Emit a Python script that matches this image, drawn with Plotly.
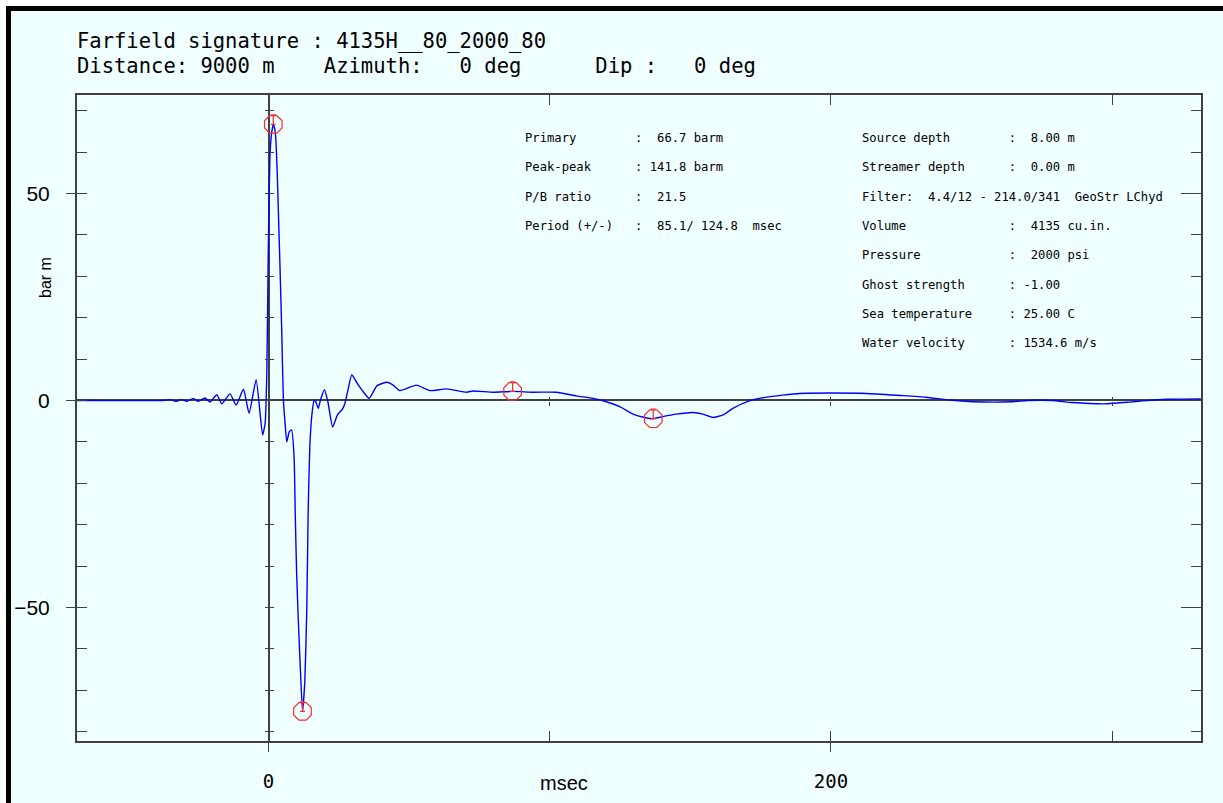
import plotly.graph_objects as go

# ---------------- data ----------------
t_ms = [-68.0, -37.5, -35.0, -33.0, -31.0, -29.0, -26.7, -25.0, -22.6, -20.8,
        -18.4, -16.6, -13.7, -11.5, -8.9, -6.9, -4.4, -2.1, -1.2, -0.6,
        -0.1, 0.5, 1.1, 1.7, 2.3, 2.7, 3.1, 3.5, 4.1, 4.7,
        5.3, 5.9, 6.5, 7.4, 8.2, 9.1, 9.5, 10.0, 10.6, 11.4,
        12.1, 12.9, 13.6, 14.1, 14.7, 15.5, 16.2, 16.8, 17.7, 18.5,
        19.9, 21.2, 22.8, 24.5, 26.3, 27.2, 28.4, 29.6, 31.5, 33.7,
        35.8, 38.6, 42.2, 44.3, 46.7, 52.6, 57.4, 63.3, 70.4, 72.8,
        79.9, 86.8, 94.1, 102.4, 109.5, 115.4, 120.1, 124.9, 129.6, 133.7,
        136.8, 140.2, 145.0, 150.9, 154.5, 158.0, 161.6, 165.1, 171.0, 177.0,
        182.9, 188.8, 200.0, 212.5, 224.9, 233.8, 242.1, 250.4, 264.6, 270.0,
        278.8, 285.9, 298.3, 306.0, 310.8, 319.6, 331.5]
amp_barm = [0.0, 0.0, 0.2, -0.2, 0.2, -0.2, 0.5, -0.2, 0.6, -0.4,
            1.4, -0.8, 1.6, -1.1, 2.7, -3.1, 5.0, -8.3, -5.5, 6.6,
            35.0, 58.9, 64.6, 66.7, 65.3, 62.0, 55.0, 46.0, 32.0, 17.0,
            0.0, -5.5, -10.0, -7.5, -7.1, -13.6, -27.0, -41.7, -53.0, -66.0,
            -75.1, -68.0, -51.0, -27.0, -11.0, -3.0, 0.0, -0.3, -1.9, 0.2,
            2.6, -0.6, -6.4, -3.5, -2.1, -0.6, 3.0, 6.2, 4.2, 2.1,
            0.5, 3.6, 4.4, 3.7, 2.4, 3.7, 2.4, 2.8, 2.0, 2.3,
            2.0, 2.2, 2.0, 2.0, 1.1, 0.5, -0.3, -1.5, -3.3, -4.1,
            -4.4, -3.9, -3.3, -2.9, -3.3, -4.1, -3.5, -1.9, -0.1, 0.8,
            1.3, 1.7, 1.8, 1.7, 1.2, 0.8, 0.1, -0.3, -0.3, 0.0,
            0.0, -0.5, -0.8, -0.4, -0.1, 0.3, 0.4]

# picked extrema: primary peak, primary trough, bubble peak, bubble trough
pick_t = [1.7, 12.1, 86.8, 136.8]
pick_v = [66.7, -75.1, 2.2, -4.4]

x_ticks = [0, 100, 200, 300]
x_labels = [0, 200]
y_labels = [-50, 0, 50]

title_line1 = "Farfield signature : 4135H__80_2000_80"
title_line2 = "Distance: 9000 m    Azimuth:   0 deg      Dip :   0 deg"

left_names = ["Primary", "Peak-peak", "P/B ratio", "Period (+/-)"]
left_values = [":  66.7 barm", ": 141.8 barm", ":  21.5", ":  85.1/ 124.8  msec"]
right_names = ["Source depth", "Streamer depth", "Filter:", "Volume", "Pressure",
               "Ghost strength", "Sea temperature", "Water velocity"]
right_values = [":  8.00 m", ":  0.00 m", "  4.4/12 - 214.0/341  GeoStr LChyd",
                ":  4135 cu.in.", ":  2000 psi", ": -1.00", ": 25.00 C", ": 1534.6 m/s"]

# ---------------- layout geometry ----------------
W, H = 1223, 803
PL, PR, PT, PB = 77, 1201, 95, 741
BG = "#f0ffff"
AX = "#404040"
RED = "#ff2a2a"
XR = [-68.09, 331.56]
YR = [-82.25, 73.79]
MARK_SIZE = 19


def fx(px):
    return (px - PL) / (PR - PL)


def fy(py):
    return (PB - py) / (PB - PT)


def nb(s):
    return s.replace(" ", "\u00a0")


# marker radius expressed in y data units (for the small "T" inside each circle)
px_per_unit = (PB - PT) / (YR[1] - YR[0])
r_units = (MARK_SIZE / 2) / px_per_unit

fig = go.Figure()
fig.add_trace(go.Scatter(x=t_ms, y=amp_barm, mode="lines",
                         line=dict(color="#0000ff", width=1.4, shape="spline", smoothing=0.5),
                         hoverinfo="skip", showlegend=False))
fig.add_trace(go.Scatter(x=pick_t, y=pick_v, mode="markers",
                         marker=dict(symbol="octagon-open", size=MARK_SIZE, color=RED,
                                     line=dict(width=1.2, color=RED)),
                         error_y=dict(type="data", symmetric=False,
                                      array=[r_units] * len(pick_t),
                                      arrayminus=[0] * len(pick_t),
                                      color=RED, thickness=1.2, width=2.5),
                         hoverinfo="skip", showlegend=False))
# empty traces so that the helper axes are drawn
for xa, ya in [("x2", "y"), ("x3", "y"), ("x4", "y"), ("x", "y2"), ("x", "y3"),
               ("x", "y4"), ("x", "y5")]:
    fig.add_trace(go.Scatter(x=[None], y=[None], xaxis=xa, yaxis=ya,
                             mode="lines", showlegend=False, hoverinfo="skip"))

plain = dict(showgrid=False, zeroline=False, showline=False, automargin=False)
zero_y_pos = fy(400.5)
zero_x_pos = fx(268.5)

fig.update_layout(
    width=W, height=H, autosize=False,
    margin=dict(l=PL, r=W - PR, t=PT, b=H - PB, pad=0, autoexpand=False),
    paper_bgcolor=BG, plot_bgcolor=BG,
    showlegend=False,
    xaxis=dict(range=XR, showgrid=False, zeroline=True, zerolinecolor=AX, zerolinewidth=1.5,
               showline=True, linecolor=AX, linewidth=1.6, mirror="ticks", automargin=False,
               ticks="inside", tickvals=x_ticks, ticklen=10, tickwidth=1.2, tickcolor=AX,
               showticklabels=False),
    xaxis2=dict(range=XR, overlaying="x", anchor="y", side="bottom", **plain,
                ticks="outside", tickvals=x_labels, ticklen=10, tickwidth=1.2, tickcolor=AX,
                tickfont=dict(family="DejaVu Sans Mono", size=19, color="black"),
                ticklabelstandoff=13),
    xaxis3=dict(range=XR, overlaying="x", anchor="free", position=zero_y_pos, side="bottom",
                **plain, ticks="outside", tickvals=x_ticks[1:], ticklen=4, tickwidth=1.2,
                tickcolor=AX, showticklabels=False),
    xaxis4=dict(range=XR, overlaying="x", anchor="free", position=zero_y_pos, side="bottom",
                **plain, ticks="inside", tickvals=x_ticks[1:], ticklen=4, tickwidth=1.2,
                tickcolor=AX, showticklabels=False),
    yaxis=dict(range=YR, showgrid=False, zeroline=True, zerolinecolor=AX, zerolinewidth=1.5,
               showline=True, linecolor=AX, linewidth=1.6, mirror="ticks", automargin=False,
               ticks="inside", tick0=0, dtick=10, ticklen=10, tickwidth=1.2, tickcolor=AX,
               showticklabels=False),
    yaxis2=dict(range=YR, overlaying="y", anchor="x", side="left", **plain,
                ticks="outside", tickvals=y_labels, ticklen=10, tickwidth=1.2, tickcolor=AX,
                tickfont=dict(family="Liberation Sans", size=21, color="black"),
                ticklabelstandoff=12),
    yaxis3=dict(range=YR, overlaying="y", anchor="x", side="right", **plain,
                ticks="inside", tickvals=y_labels, ticklen=20, tickwidth=1.2, tickcolor=AX,
                showticklabels=False),
    yaxis4=dict(range=YR, overlaying="y", anchor="free", position=zero_x_pos, side="left",
                **plain, ticks="outside", tick0=0, dtick=10, ticklen=4, tickwidth=1.2,
                tickcolor=AX, showticklabels=False),
    yaxis5=dict(range=YR, overlaying="y", anchor="free", position=zero_x_pos, side="left",
                **plain, ticks="inside", tick0=0, dtick=10, ticklen=4, tickwidth=1.2,
                tickcolor=AX, showticklabels=False),
)

ann = []
mono_big = dict(family="DejaVu Sans Mono", size=20.5, color="black")
ann.append(dict(text=nb(title_line1), x=fx(75), y=fy(41), xref="paper", yref="paper",
                xanchor="left", yanchor="middle", showarrow=False, font=mono_big))
ann.append(dict(text=nb(title_line2), x=fx(75), y=fy(66), xref="paper", yref="paper",
                xanchor="left", yanchor="middle", showarrow=False, font=mono_big))

mono_small = dict(family="DejaVu Sans Mono", size=12.2, color="black")
row_y0, row_dy = 138, 29.3
for i, (n, v) in enumerate(zip(left_names, left_values)):
    ann.append(dict(text=nb(n.ljust(15) + v), x=fx(523), y=fy(row_y0 + i * row_dy),
                    xref="paper", yref="paper", xanchor="left", yanchor="middle",
                    showarrow=False, font=mono_small))
for i, (n, v) in enumerate(zip(right_names, right_values)):
    txt = n + v if n.endswith(":") else n.ljust(20) + v
    ann.append(dict(text=nb(txt), x=fx(860), y=fy(row_y0 + i * row_dy),
                    xref="paper", yref="paper", xanchor="left", yanchor="middle",
                    showarrow=False, font=mono_small))

ann.append(dict(text="msec", x=fx(564), y=fy(783), xref="paper", yref="paper",
                xanchor="center", yanchor="middle", showarrow=False,
                font=dict(family="Liberation Sans", size=20, color="black")))
ann.append(dict(text="bar m", x=fx(45), y=fy(278), xref="paper", yref="paper",
                xanchor="center", yanchor="middle", showarrow=False, textangle=-90,
                font=dict(family="Liberation Sans", size=16, color="black")))
fig.update_layout(annotations=ann)

# window frame: thin white edge and black border at top and left
shapes = [
    dict(type="rect", xref="paper", yref="paper", x0=fx(0), x1=fx(6), y0=fy(H), y1=fy(0),
         fillcolor="white", line=dict(width=0)),
    dict(type="rect", xref="paper", yref="paper", x0=fx(0), x1=fx(W), y0=fy(6), y1=fy(0),
         fillcolor="white", line=dict(width=0)),
    dict(type="rect", xref="paper", yref="paper", x0=fx(6), x1=fx(11), y0=fy(H), y1=fy(6),
         fillcolor="black", line=dict(width=0)),
    dict(type="rect", xref="paper", yref="paper", x0=fx(6), x1=fx(W), y0=fy(11), y1=fy(6),
         fillcolor="black", line=dict(width=0)),
]
fig.update_layout(shapes=shapes)

fig.write_html("out.html", config={"displayModeBar": False},
               post_script="document.body.style.margin='0';document.body.style.overflow='hidden';")
